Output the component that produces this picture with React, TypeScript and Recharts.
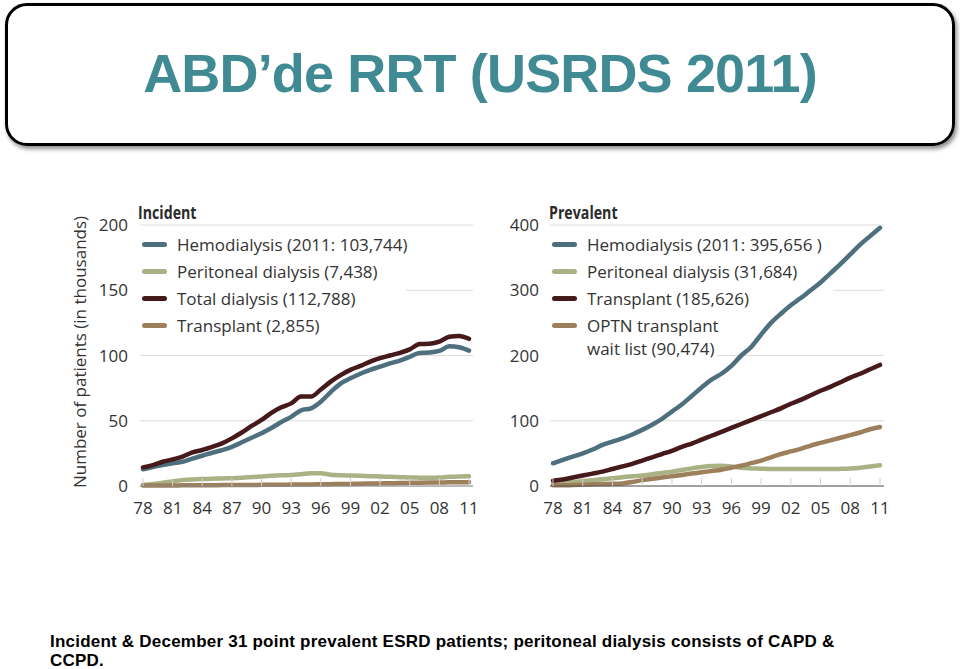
import { LineChart, Line, XAxis, YAxis, CartesianGrid, Legend } from "recharts"

const YEARS = [
  1978, 1979, 1980, 1981, 1982, 1983, 1984, 1985, 1986, 1987, 1988, 1989,
  1990, 1991, 1992, 1993, 1994, 1995, 1996, 1997, 1998, 1999, 2000, 2001,
  2002, 2003, 2004, 2005, 2006, 2007, 2008, 2009, 2010, 2011,
]
const YEAR_TICKS = [1978, 1981, 1984, 1987, 1990, 1993, 1996, 1999, 2002, 2005, 2008, 2011]

// incident, thousands
const INC_HEMO = [
  12.8, 14.5, 16, 17.4, 18.6, 21, 23.2, 25.5, 27.5, 30, 33.5, 37,
  40.5, 44.5, 49, 53, 58, 59.5, 64.6, 72, 78.5, 82.5, 86, 89,
  91.4, 94, 96, 99, 102, 102.3, 103.5, 107, 106.3, 103.7,
]
const INC_PD = [
  0.8, 1.5, 2.5, 3.5, 4.5, 5, 5.3, 5.5, 5.8, 6, 6.3, 6.8,
  7.3, 7.8, 8.2, 8.5, 9, 9.8, 9.8, 8.6, 8.2, 8, 7.8, 7.5,
  7.3, 7, 6.8, 6.5, 6.4, 6.3, 6.5, 7, 7.3, 7.4,
]
const INC_TOTAL = [
  14.3, 16, 18.6, 20.4, 22.5, 25.8, 27.6, 30, 32.7, 36.5, 41, 46,
  50.6, 56, 60.3, 63.3, 68.5, 68.5, 74, 80, 85, 89, 92, 95.3,
  98, 100, 102, 104.7, 108.8, 109, 110.6, 114.4, 115, 112.8,
]
const INC_TX = [
  0.3, 0.3, 0.4, 0.4, 0.5, 0.5, 0.6, 0.6, 0.7, 0.7, 0.8, 0.8,
  0.9, 0.9, 1, 1.1, 1.2, 1.2, 1.3, 1.4, 1.5, 1.6, 1.8, 1.9,
  2, 2.1, 2.3, 2.4, 2.5, 2.6, 2.7, 2.8, 2.9, 2.9,
]

// prevalent, thousands
const PREV_HEMO = [
  34.7, 40, 45, 50, 56, 63, 68, 73, 79, 86, 94, 103,
  114, 125, 138, 151, 163, 172, 184, 200, 213, 232, 250, 264,
  277, 288, 300, 312, 326, 340, 355, 370, 383, 395.7,
]
const PREV_PD = [
  2, 4, 6, 7.5, 9, 10.5, 12, 13.5, 15, 16, 18, 20,
  22, 24.5, 27, 29, 30.5, 31, 30, 28, 27, 26.5, 26, 26,
  26, 26, 26, 26, 26, 26.3, 26.8, 28, 30, 31.7,
]
const PREV_TX = [
  8, 10, 13, 16, 19, 22, 26, 30, 34, 39, 44, 49,
  54, 60, 65, 71, 77, 83, 89, 95, 101, 107, 113, 119,
  126, 132, 139, 146, 152, 159, 166, 172, 179, 185.6,
]
const PREV_WAIT = [
  1, 1, 1.5, 2, 2.5, 3, 3.5, 4, 6, 9, 11, 13,
  15, 17, 19, 21, 23, 25, 28, 31, 35, 39, 44, 49,
  53, 57, 62, 66, 70, 74, 78, 82, 87, 90.5,
]

const INC_TICKS = [0, 50, 100, 150, 200]
const PREV_TICKS = [0, 100, 200, 300, 400]

const INC_NAMES = {
  hemo: "Hemodialysis (2011: 103,744)",
  pd: "Peritoneal dialysis (7,438)",
  total: "Total dialysis (112,788)",
  tx: "Transplant (2,855)",
}
const PREV_NAMES = {
  hemo: "Hemodialysis (2011: 395,656 )",
  pd: "Peritoneal dialysis (31,684)",
  tx: "Transplant (185,626)",
  wait: "OPTN transplant\nwait list (90,474)",
}

const COLORS = {
  hemo: "#4e6f7e",
  pd: "#a9b284",
  dark: "#46191a",
  tan: "#9e7f5b",
}

const FONT = "'Open Sans', 'DejaVu Sans', sans-serif"
const ARIAL = "'Liberation Sans', Arial, sans-serif"
const LINE_W = 4.5

const incData = YEARS.map((year, i) => ({
  year,
  hemo: INC_HEMO[i],
  pd: INC_PD[i],
  total: INC_TOTAL[i],
  tx: INC_TX[i],
}))

const prevData = YEARS.map((year, i) => ({
  year,
  hemo: PREV_HEMO[i],
  pd: PREV_PD[i],
  tx: PREV_TX[i],
  wait: PREV_WAIT[i],
}))

function YearTick({ x, y, payload }: any) {
  const label = String(payload.value % 100).padStart(2, "0")
  return (
    <g>
      <line x1={x} x2={x} y1={y} y2={y - 8} stroke="#cfcfcf" />
      <text x={x} y={y + 28} textAnchor="middle" fontSize={17} fill="#333" fontFamily={FONT}>
        {label}
      </text>
    </g>
  )
}

// gridlines are hidden behind the legend rows, like in the source figure
type Block = { top: number; bottom: number; width: number }
const gridLine = (blocks: Block[]) => (p: any) => {
  const hit = blocks.find((b) => p.y1 >= b.top && p.y1 <= b.bottom)
  const x1 = hit ? p.x1 + hit.width : p.x1
  return <line key={`g-${p.index}`} x1={x1} x2={p.x2} y1={p.y1} y2={p.y2} stroke="#dcdcdc" strokeWidth={1} />
}

function SeriesLegend({ payload, order }: any) {
  const items = [...(payload || [])].sort(
    (a: any, b: any) => order.indexOf(a.dataKey) - order.indexOf(b.dataKey)
  )
  return (
    <div style={{ fontFamily: FONT, fontSize: 17, color: "#333" }}>
      {items.map((entry: any) => (
        <div key={entry.dataKey} style={{ display: "flex", alignItems: "flex-start", padding: "2px 0" }}>
          <span
            style={{
              flex: "none",
              width: 25,
              height: 5,
              marginTop: 9,
              marginLeft: 2,
              borderRadius: 3,
              background: entry.color,
            }}
          />
          <span style={{ marginLeft: 10, whiteSpace: "pre", lineHeight: "23px" }}>{entry.value}</span>
        </div>
      ))}
    </div>
  )
}

const INC_BLOCKS = [{ top: 41, bottom: 150, width: 266 }]
const PREV_BLOCKS = [
  { top: 41, bottom: 122, width: 283 },
  { top: 122, bottom: 172, width: 167 },
]

function IncidentChart() {
  return (
    <LineChart width={430} height={340} data={incData} margin={{ top: 35, right: 17, left: 20, bottom: 0 }}>
      <CartesianGrid vertical={false} horizontal={gridLine(INC_BLOCKS)} />
      <XAxis
        dataKey="year"
        type="number"
        domain={[1978, 2011]}
        ticks={YEAR_TICKS}
        interval={0}
        padding={{ left: 3, right: 4 }}
        height={44}
        tickSize={0}
        tickMargin={0}
        tickLine={false}
        axisLine={{ stroke: "#888" }}
        tick={<YearTick />}
      />
      <YAxis
        domain={[0, 200]}
        ticks={INC_TICKS}
        width={60}
        axisLine={false}
        tickLine={false}
        tickSize={0}
        tickMargin={12}
        tick={{ fontSize: 17, fill: "#333", fontFamily: FONT }}
      />
      <Legend
        layout="horizontal"
        verticalAlign="middle"
        align="center"
        wrapperStyle={{ left: 80, top: 41, width: "auto" }}
        content={<SeriesLegend order={["hemo", "pd", "total", "tx"]} />}
      />
      <Line dataKey="pd" name={INC_NAMES.pd} stroke={COLORS.pd} strokeWidth={LINE_W} strokeLinecap="round" dot={false} type="monotone" isAnimationActive={false} />
      <Line dataKey="tx" name={INC_NAMES.tx} stroke={COLORS.tan} strokeWidth={LINE_W} strokeLinecap="round" dot={false} type="monotone" isAnimationActive={false} />
      <Line dataKey="hemo" name={INC_NAMES.hemo} stroke={COLORS.hemo} strokeWidth={LINE_W} strokeLinecap="round" dot={false} type="monotone" isAnimationActive={false} />
      <Line dataKey="total" name={INC_NAMES.total} stroke={COLORS.dark} strokeWidth={LINE_W} strokeLinecap="round" dot={false} type="monotone" isAnimationActive={false} />
    </LineChart>
  )
}

function PrevalentChart() {
  return (
    <LineChart width={410} height={340} data={prevData} margin={{ top: 35, right: 16, left: 0, bottom: 0 }}>
      <CartesianGrid vertical={false} horizontal={gridLine(PREV_BLOCKS)} />
      <XAxis
        dataKey="year"
        type="number"
        domain={[1978, 2011]}
        ticks={YEAR_TICKS}
        interval={0}
        padding={{ left: 3, right: 4 }}
        height={44}
        tickSize={0}
        tickMargin={0}
        tickLine={false}
        axisLine={{ stroke: "#555" }}
        tick={<YearTick />}
      />
      <YAxis
        domain={[0, 400]}
        ticks={PREV_TICKS}
        width={60}
        axisLine={false}
        tickLine={false}
        tickSize={0}
        tickMargin={11}
        tick={{ fontSize: 17, fill: "#333", fontFamily: FONT }}
      />
      <Legend
        layout="horizontal"
        verticalAlign="middle"
        align="center"
        wrapperStyle={{ left: 60, top: 41, width: "auto" }}
        content={<SeriesLegend order={["hemo", "pd", "tx", "wait"]} />}
      />
      <Line dataKey="pd" name={PREV_NAMES.pd} stroke={COLORS.pd} strokeWidth={LINE_W} strokeLinecap="round" dot={false} type="monotone" isAnimationActive={false} />
      <Line dataKey="wait" name={PREV_NAMES.wait} stroke={COLORS.tan} strokeWidth={LINE_W} strokeLinecap="round" dot={false} type="monotone" isAnimationActive={false} />
      <Line dataKey="tx" name={PREV_NAMES.tx} stroke={COLORS.dark} strokeWidth={LINE_W} strokeLinecap="round" dot={false} type="monotone" isAnimationActive={false} />
      <Line dataKey="hemo" name={PREV_NAMES.hemo} stroke={COLORS.hemo} strokeWidth={LINE_W} strokeLinecap="round" dot={false} type="monotone" isAnimationActive={false} />
    </LineChart>
  )
}

export default function App() {
  return (
    <div style={{ position: "absolute", left: 0, top: 0, width: 960, height: 669, background: "#fff", overflow: "hidden" }}>
      <div
        style={{
          position: "absolute",
          left: 5,
          top: 3,
          width: 950,
          height: 143,
          boxSizing: "border-box",
          border: "3px solid #000",
          borderRadius: 22,
          boxShadow: "2px 3px 4px rgba(0,0,0,0.45)",
        }}
      />
      <div style={{ position: "absolute", left: 60, top: 190 }}>
        <IncidentChart />
      </div>
      <div style={{ position: "absolute", left: 490, top: 190 }}>
        <PrevalentChart />
      </div>
      <svg width={960} height={669} style={{ position: "absolute", left: 0, top: 0, pointerEvents: "none" }}>
        <text x={480} y={92} textAnchor="middle" fontFamily={ARIAL} fontWeight="bold" fontSize={54} letterSpacing={-0.85} fill="#3f8a93">
          ABD’de RRT (USRDS 2011)
        </text>
        <text transform="translate(138,219) scale(0.835,1)" fontFamily={FONT} fontWeight="bold" fontSize={17} fill="#2b2b2b">
          Incident
        </text>
        <text transform="translate(549,219) scale(0.835,1)" fontFamily={FONT} fontWeight="bold" fontSize={17} fill="#2b2b2b">
          Prevalent
        </text>
        <text transform="translate(79,352) rotate(-90)" textAnchor="middle" dominantBaseline="central" fontFamily={FONT} fontSize={17} fill="#333">
          Number of patients (in thousands)
        </text>
        <text x={50} y={646.5} fontFamily={ARIAL} fontWeight="bold" fontSize={17} letterSpacing={0.22} fill="#000">
          Incident &amp; December 31 point prevalent ESRD patients; peritoneal dialysis consists of CAPD &amp;
        </text>
        <text x={50} y={665.5} fontFamily={ARIAL} fontWeight="bold" fontSize={17} letterSpacing={0.22} fill="#000">
          CCPD.
        </text>
      </svg>
    </div>
  )
}
